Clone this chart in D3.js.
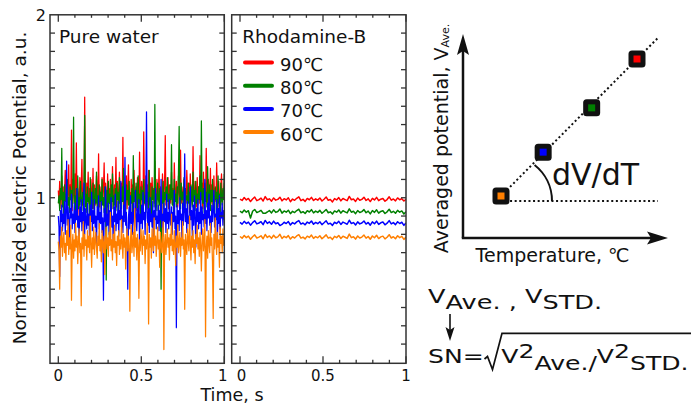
<!DOCTYPE html>
<html>
<head>
<meta charset="utf-8">
<script src="https://cdn.jsdelivr.net/npm/d3@7"></script>
<style>
  body { margin: 0; background: #fff; }
  svg { font-family: "DejaVu Sans", Verdana, sans-serif; }
</style>
</head>
<body>
<div class="container"></div>
<script>
// datos: pure water (left panel), 240 samples over 1 s
const pureRed = [1.04,0.97,1.09,1.01,0.94,1.12,0.99,1.06,0.92,1.03,1.15,0.98,1.08,0.95,1.02,1.18,0.96,1.07,1.00,1.37,
  0.93,1.10,1.03,0.97,1.13,0.99,1.30,0.94,1.05,1.01,0.90,1.11,0.98,1.06,1.21,0.96,1.04,0.99,1.55,1.02,
  0.95,1.08,1.00,1.14,0.97,1.05,0.91,1.10,1.02,0.98,1.16,0.94,1.07,1.01,0.96,1.12,1.03,0.99,1.24,0.95,
  1.06,1.00,0.93,1.11,0.98,1.04,1.19,0.96,1.08,1.02,0.89,1.13,0.99,1.05,0.97,1.10,1.01,0.94,1.17,1.03,
  0.98,1.07,1.00,1.22,0.95,1.09,1.02,0.97,1.14,1.04,0.92,1.08,1.00,1.33,0.96,1.06,1.01,0.99,1.12,0.94,
  1.05,1.18,0.98,1.03,0.91,1.10,1.00,1.07,0.96,1.15,1.02,0.99,1.06,0.93,1.11,1.04,0.97,1.25,1.01,0.95,
  1.09,1.02,0.98,1.36,1.04,0.96,1.12,1.00,1.07,0.94,1.15,1.03,0.99,1.08,0.92,1.11,1.01,1.05,0.97,1.20,
  1.02,0.95,1.10,1.04,0.99,1.16,0.97,1.06,1.01,0.90,1.13,1.03,0.98,1.08,1.34,0.96,1.05,1.00,1.11,0.94,
  1.07,1.02,0.97,1.14,1.00,1.05,0.93,1.19,1.03,0.98,1.09,1.01,0.95,1.12,1.04,0.99,1.26,0.97,1.06,1.02,
  0.94,1.10,1.00,1.05,0.97,1.15,1.03,0.99,1.08,0.92,1.13,1.01,1.06,0.96,1.28,1.02,0.98,1.09,1.04,0.95,
  1.11,1.00,1.06,0.97,1.23,1.03,0.99,1.08,0.94,1.14,1.02,1.05,0.98,1.27,1.01,0.96,1.10,1.04,0.99,1.16,
  0.97,1.07,1.02,0.93,1.12,1.00,1.05,0.98,1.19,1.03,0.95,1.09,1.01,0.80,1.06,1.13,0.98,1.04,1.00,1.08]
const pureGreen = [0.97,1.01,0.93,1.05,0.99,1.27,0.95,1.03,0.90,1.07,0.98,1.02,0.94,1.10,0.96,1.00,0.92,1.06,0.99,1.04,
  0.95,1.08,1.44,0.97,1.01,0.91,1.05,0.98,1.12,0.94,1.00,0.96,1.09,0.99,0.93,1.03,0.97,1.07,1.45,0.95,
  1.02,0.92,1.06,0.98,1.00,0.89,1.11,0.96,1.03,0.94,1.08,0.99,0.93,1.05,0.97,1.14,0.95,1.01,0.90,1.07,
  0.98,1.03,0.94,1.10,0.96,1.00,0.92,1.06,0.99,0.55,1.04,0.95,1.09,0.97,1.02,0.91,1.07,0.98,1.13,0.94,
  1.01,0.96,1.05,0.93,1.08,0.99,1.03,0.90,1.11,0.97,1.00,0.94,1.06,0.98,1.16,0.95,1.02,0.92,1.07,0.99,
  1.04,0.96,1.09,0.93,1.01,0.97,1.05,0.91,1.23,0.98,1.03,0.95,1.08,1.00,0.94,1.12,0.97,1.02,0.89,1.06,
  0.99,1.04,0.95,1.10,0.97,1.01,0.92,1.07,0.98,1.03,0.94,1.15,0.96,1.00,0.91,1.06,0.99,1.04,0.95,1.51,
  0.97,1.02,0.93,1.08,1.00,0.96,1.05,0.92,0.50,1.01,0.97,1.09,0.94,1.03,0.99,1.06,0.95,1.11,0.98,1.02,
  0.93,1.07,0.99,1.29,0.96,1.04,0.91,1.10,0.98,1.02,0.95,1.06,0.97,1.13,1.39,1.00,0.94,1.08,0.99,1.03,
  0.96,1.11,0.92,1.05,0.99,1.01,0.94,1.08,0.97,1.03,0.90,1.07,1.00,0.95,1.14,0.98,1.04,0.93,1.09,0.97,
  1.02,0.96,1.06,0.99,1.12,0.94,1.42,1.01,0.97,1.05,0.92,1.08,0.98,1.03,0.95,1.17,1.00,0.96,1.07,0.93,
  1.04,0.98,1.10,0.95,1.01,0.91,1.06,0.99,1.03,0.94,1.12,0.97,1.02,0.88,1.08,1.00,0.96,1.05,0.99,1.13]
const pureBlue = [0.90,0.84,0.57,0.93,0.87,0.96,0.82,0.91,0.86,0.98,0.80,0.92,1.20,0.85,0.95,0.88,0.78,0.94,0.89,1.02,
  0.83,0.91,0.86,0.97,0.81,0.93,0.88,1.05,0.84,0.90,0.76,0.95,0.87,0.99,0.82,0.92,0.86,1.08,0.80,0.94,
  0.88,0.83,0.97,0.85,0.91,0.79,0.96,0.87,1.03,0.82,0.93,0.86,0.99,0.84,0.90,0.74,0.95,0.88,1.01,0.83,
  0.92,0.86,0.98,0.81,0.89,0.44,0.94,0.87,1.06,0.83,0.91,0.85,0.97,0.80,0.93,0.88,1.00,0.84,0.90,0.77,
  0.95,0.87,1.02,0.82,0.91,0.86,0.98,0.79,0.93,0.88,1.09,0.84,0.90,0.81,0.96,0.87,1.22,0.85,0.92,0.78,
  0.50,0.89,0.95,0.83,1.01,0.86,0.92,0.80,0.97,0.88,0.84,1.04,0.90,0.82,0.94,0.87,0.99,0.75,0.91,0.86,
  0.96,0.83,1.03,0.88,0.92,0.80,0.97,1.47,0.89,0.85,0.94,0.81,1.00,0.87,0.91,0.84,0.98,0.70,0.93,0.88,
  1.05,0.83,0.90,0.86,0.96,0.82,0.93,0.88,1.10,0.84,0.91,0.79,0.97,0.87,0.94,0.81,1.02,0.86,0.92,0.83,
  0.99,0.88,0.85,0.95,0.80,0.92,0.87,1.04,0.83,0.90,0.29,0.96,0.86,0.93,0.82,1.00,0.88,0.91,0.77,0.97,
  0.85,0.92,1.24,0.87,0.94,0.81,0.98,0.86,0.90,0.83,1.06,0.88,0.93,0.79,0.96,0.85,1.01,0.89,0.73,0.94,
  0.87,0.99,0.83,0.92,0.86,1.03,0.80,0.95,0.88,0.91,0.84,1.10,0.86,0.93,0.82,0.97,0.89,1.02,0.85,0.90,
  0.81,0.96,0.87,0.93,1.04,0.84,0.91,0.88,0.99,0.76,0.94,0.86,1.01,0.83,0.92,0.89,0.97,0.85,0.93,0.88]
const pureOrange = [0.76,0.71,0.50,0.79,0.73,0.84,0.68,0.77,0.81,0.70,0.75,0.66,0.82,0.74,0.88,0.69,0.78,0.72,0.85,0.44,
  0.74,0.80,0.67,0.77,0.71,0.86,0.73,0.79,0.64,0.76,0.83,0.70,0.75,0.41,0.78,0.72,0.87,0.68,0.80,0.74,
  0.77,0.66,0.82,0.73,0.79,0.70,0.90,0.75,0.62,0.78,0.72,0.84,0.69,0.76,0.81,0.73,0.67,0.79,0.74,0.86,
  0.71,0.77,0.65,0.82,0.75,0.70,0.79,0.58,0.76,0.84,0.72,0.78,0.68,0.81,0.74,0.92,0.71,0.77,0.66,0.80,
  0.73,0.85,0.70,0.76,0.63,0.79,0.74,0.82,0.69,0.77,0.72,0.88,0.75,0.67,0.80,0.73,0.78,0.61,0.76,0.83,
  0.71,0.79,0.74,0.38,0.77,0.85,0.70,0.75,0.81,0.68,0.94,0.73,0.78,0.66,0.80,0.74,0.45,0.77,0.71,0.83,
  0.76,0.69,0.82,0.74,0.79,0.64,0.77,0.72,0.86,0.75,0.31,0.80,0.73,0.78,0.67,0.83,0.75,0.71,0.89,0.74,
  0.79,0.68,0.76,0.84,0.72,0.77,0.62,0.81,0.74,0.70,0.78,0.87,0.17,0.75,0.80,0.69,0.76,0.83,0.73,0.78,
  0.66,0.80,0.74,0.91,0.71,0.77,0.69,0.82,0.75,0.63,0.79,0.73,0.85,0.70,0.76,0.81,0.68,0.78,0.74,0.87,
  0.72,0.77,0.39,0.80,0.74,0.69,0.83,0.76,0.71,0.90,0.75,0.66,0.79,0.73,0.82,0.70,0.77,0.64,0.80,0.75,
  0.85,0.72,0.78,0.68,0.81,0.74,0.60,0.77,0.83,0.71,0.76,0.88,0.24,0.73,0.79,0.67,0.82,0.75,0.70,0.86,
  0.74,0.78,0.65,0.34,0.80,0.72,0.89,0.76,0.69,0.81,0.73,0.77,0.62,0.84,0.75,0.79,0.70,0.83,0.74,0.78]

// datos: rhodamine-B (right panel), 80 samples over 1 s
const rhoRed = [0.992,0.985,1.001,0.988,0.996,0.979,0.993,1.004,0.984,0.990,0.998,0.982,1.006,0.989,0.994,0.981,0.999,0.987,0.991,1.003,
  0.983,0.995,0.988,1.000,0.978,0.993,0.986,0.997,1.005,0.984,0.991,0.980,0.996,0.989,1.002,0.985,0.994,0.987,0.999,0.982,
  0.992,1.004,0.986,0.990,0.977,0.995,0.988,1.001,0.983,0.996,0.990,0.984,1.007,0.989,0.993,0.980,0.998,0.986,0.991,1.003,
  0.985,0.994,0.979,0.997,0.988,1.002,0.984,0.992,0.996,0.981,0.990,1.005,0.987,0.993,0.983,0.999,0.989,0.995,0.982,0.991]
const rhoGreen = [0.927,0.918,0.933,0.921,0.929,0.889,0.926,0.936,0.919,0.924,0.931,0.915,0.915,0.922,0.930,0.917,0.934,0.920,0.925,0.938,
  0.916,0.928,0.921,0.932,0.913,0.926,0.919,0.930,0.937,0.918,0.924,0.914,0.929,0.922,0.935,0.917,0.927,0.920,0.931,0.915,
  0.925,0.936,0.918,0.923,0.911,0.928,0.921,0.933,0.916,0.929,0.923,0.917,0.939,0.921,0.926,0.913,0.930,0.919,0.924,0.935,
  0.918,0.927,0.912,0.930,0.920,0.934,0.916,0.925,0.929,0.914,0.923,0.937,0.919,0.926,0.915,0.931,0.921,0.928,0.911,0.924]
const rhoBlue = [0.865,0.856,0.871,0.859,0.867,0.850,0.864,0.874,0.857,0.862,0.869,0.853,0.876,0.860,0.868,0.855,0.872,0.858,0.863,0.848,
  0.854,0.866,0.859,0.870,0.851,0.864,0.857,0.868,0.875,0.856,0.862,0.852,0.867,0.860,0.873,0.855,0.865,0.858,0.869,0.853,
  0.863,0.874,0.856,0.861,0.849,0.866,0.859,0.871,0.854,0.867,0.861,0.855,0.877,0.859,0.864,0.851,0.868,0.857,0.862,0.873,
  0.856,0.865,0.850,0.868,0.858,0.872,0.854,0.863,0.867,0.852,0.861,0.875,0.857,0.864,0.853,0.869,0.859,0.866,0.849,0.862]
const rhoOrange = [0.788,0.779,0.794,0.782,0.790,0.773,0.787,0.797,0.780,0.785,0.792,0.776,0.799,0.783,0.791,0.778,0.795,0.781,0.786,0.800,
  0.777,0.789,0.782,0.793,0.774,0.787,0.780,0.791,0.798,0.779,0.785,0.775,0.790,0.783,0.796,0.778,0.788,0.781,0.792,0.776,
  0.786,0.797,0.779,0.784,0.772,0.789,0.782,0.794,0.777,0.790,0.784,0.778,0.801,0.782,0.787,0.774,0.791,0.780,0.785,0.796,
  0.779,0.788,0.773,0.791,0.781,0.795,0.777,0.786,0.790,0.775,0.784,0.798,0.780,0.787,0.776,0.792,0.782,0.789,0.772,0.785]

const legendLabels = ["90℃", "80℃", "70℃", "60℃"]
const colores = ["#ff0000", "#008000", "#0000ff", "#ff7f00"]
const xMajor = [0, 0.5, 1]
const xMinor = [0.1, 0.2, 0.3, 0.4, 0.6, 0.7, 0.8, 0.9]
const xLabels = ["0", "0.5", "1"]
const yTicks = [0.2, 0.3, 0.4, 0.5, 0.6, 0.7, 0.8, 0.9, 1.0, 1.1, 1.2, 1.3, 1.4, 1.5, 1.6, 1.7, 1.8, 1.9]
const yLabeled = [1, 2]

// schematic (right side)
const schemTemp = [60, 69.3, 80, 90]
const schemVolt = [1, 1.96, 2.93, 4]

const svg = d3.select(".container")
  .append("svg")
  .attr("width", 691)
  .attr("height", 408)

const topY = 14.8, bottomY = 363.3
const y = d3.scaleLinear().domain([0.095, 2]).range([bottomY, topY])

const paneles = [
  { x0: 50, x1: 224.3, series: [pureRed, pureGreen, pureBlue, pureOrange], title: "Pure water", sw: 1.25, labShift: [0, 0, -1.5] },
  { x0: 231.7, x1: 406, series: [rhoRed, rhoGreen, rhoBlue, rhoOrange], title: "Rhodamine-B", sw: 1.5, labShift: [1.5, 0, 0] }
]

paneles.forEach((p, k) => {
  const x = d3.scaleLinear().domain([-0.05, 1]).range([p.x0, p.x1])
  const g = svg.append("g").attr("class", "panel" + k)

  g.append("clipPath").attr("id", "clip" + k)
    .append("rect")
    .attr("x", p.x0).attr("y", topY)
    .attr("width", p.x1 - p.x0).attr("height", bottomY - topY)

  const datos = g.append("g").attr("clip-path", `url(#clip${k})`)
  p.series.forEach((s, j) => {
    const line = d3.line()
      .x((_, i) => x(i / (s.length - 1)))
      .y(d => y(d))
    datos.append("path")
      .attr("d", line(s))
      .attr("fill", "none")
      .attr("stroke", colores[j])
      .attr("stroke-width", p.sw)
      .attr("stroke-linejoin", "round")
  })

  // frame
  g.append("rect")
    .attr("x", p.x0).attr("y", topY)
    .attr("width", p.x1 - p.x0).attr("height", bottomY - topY)
    .attr("fill", "none")
    .attr("stroke", "#333")
    .attr("stroke-width", 1.5)

  // x ticks, bottom and top, inward
  g.selectAll(".xmaj")
    .data(xMajor)
    .join("line")
    .attr("x1", d => x(d)).attr("x2", d => x(d))
    .attr("y1", bottomY).attr("y2", bottomY - 7)
    .attr("stroke", "#333").attr("stroke-width", 1.3)
  g.selectAll(".xmajt")
    .data(xMajor)
    .join("line")
    .attr("x1", d => x(d)).attr("x2", d => x(d))
    .attr("y1", topY).attr("y2", topY + 7)
    .attr("stroke", "#333").attr("stroke-width", 1.3)
  g.selectAll(".xmin")
    .data(xMinor)
    .join("line")
    .attr("x1", d => x(d)).attr("x2", d => x(d))
    .attr("y1", bottomY).attr("y2", bottomY - 3.5)
    .attr("stroke", "#333").attr("stroke-width", 1.3)
  g.selectAll(".xmint")
    .data(xMinor)
    .join("line")
    .attr("x1", d => x(d)).attr("x2", d => x(d))
    .attr("y1", topY).attr("y2", topY + 3)
    .attr("stroke", "#333").attr("stroke-width", 1.3)

  // y ticks both sides, inward
  g.selectAll(".yl")
    .data(yTicks)
    .join("line")
    .attr("x1", p.x0).attr("x2", p.x0 + 5)
    .attr("y1", d => y(d)).attr("y2", d => y(d))
    .attr("stroke", "#333").attr("stroke-width", 1.3)
  g.selectAll(".yr")
    .data(yTicks)
    .join("line")
    .attr("x1", p.x1).attr("x2", p.x1 - 5)
    .attr("y1", d => y(d)).attr("y2", d => y(d))
    .attr("stroke", "#333").attr("stroke-width", 1.3)

  g.selectAll(".xlab")
    .data(xMajor)
    .join("text")
    .attr("x", (d, i) => x(d) + p.labShift[i])
    .attr("y", 381)
    .attr("text-anchor", "middle")
    .style("font-size", "15px")
    .attr("fill", "#111")
    .text((_, i) => xLabels[i])

  g.append("text")
    .attr("x", p.x0 + (k == 0 ? 9 : 10.5))
    .attr("y", 43.3)
    .style("font-size", "18.5px")
    .attr("fill", "#111")
    .text(p.title)
})

// y labels 2 and 1
svg.selectAll(".ylab")
  .data(yLabeled)
  .join("text")
  .attr("x", 46)
  .attr("y", d => y(d) + 6)
  .attr("text-anchor", "end")
  .style("font-size", "16px")
  .attr("fill", "#111")
  .text(d => d)

svg.append("text")
  .attr("transform", "translate(26,188) rotate(-90)")
  .attr("text-anchor", "middle")
  .style("font-size", "18.5px")
  .attr("fill", "#111")
  .text("Normalized electric Potential, a.u.")

svg.append("text")
  .attr("x", 232)
  .attr("y", 401)
  .attr("text-anchor", "middle")
  .style("font-size", "17.5px")
  .attr("fill", "#111")
  .text("Time, s")

// legend
const leyenda = svg.append("g").attr("class", "leyenda")
leyenda.selectAll("line")
  .data(legendLabels)
  .join("line")
  .attr("x1", 245).attr("x2", 272)
  .attr("y1", (_, i) => 62.5 + i * 23.2)
  .attr("y2", (_, i) => 62.5 + i * 23.2)
  .attr("stroke", (_, i) => colores[i])
  .attr("stroke-width", 4)
  .attr("stroke-linecap", "round")
leyenda.selectAll("text")
  .data(legendLabels)
  .join("text")
  .attr("x", 280)
  .attr("y", (_, i) => 62.5 + i * 23.2 + 8.5)
  .style("font-size", "18px")
  .attr("fill", "#111")
  .text(d => d)

// schematic
const sx = d3.scaleLinear().domain([60, 90]).range([501, 637])
const sy = d3.scaleLinear().domain([1, 4]).range([196, 59])
const esquema = svg.append("g").attr("class", "esquema")

esquema.append("line")
  .attr("x1", sx(62)).attr("y1", sy(1.2))
  .attr("x2", sx(94.6)).attr("y2", sy(4.46))
  .attr("stroke", "#111").attr("stroke-width", 2)
  .attr("stroke-dasharray", "2,2.6")
esquema.append("line")
  .attr("x1", sx(62)).attr("y1", sy(0.89))
  .attr("x2", sx(94.6)).attr("y2", sy(0.89))
  .attr("stroke", "#111").attr("stroke-width", 2)
  .attr("stroke-dasharray", "2,2.6")

const arco = d3.path()
arco.arc(sx(61.1), sy(0.89), 46, -0.9, 0)
esquema.append("path")
  .attr("d", arco.toString())
  .attr("fill", "none")
  .attr("stroke", "#111")
  .attr("stroke-width", 2)

// axes arrows
esquema.append("line")
  .attr("x1", 463).attr("y1", 238).attr("x2", 463).attr("y2", 45)
  .attr("stroke", "#111").attr("stroke-width", 2.5)
esquema.append("path")
  .attr("d", "M463,34 L457,55 L463,51 L469,55 Z")
  .attr("fill", "#111")
esquema.append("line")
  .attr("x1", 461.8).attr("y1", 238).attr("x2", 655).attr("y2", 238)
  .attr("stroke", "#111").attr("stroke-width", 2.5)
esquema.append("path")
  .attr("d", "M668,238 L647,231.5 L651,238 L647,244.5 Z")
  .attr("fill", "#111")

esquema.selectAll(".marc")
  .data(schemTemp)
  .join("rect")
  .attr("x", d => sx(d) - 8.5)
  .attr("y", (_, i) => sy(schemVolt[i]) - 8.5)
  .attr("width", 17).attr("height", 17)
  .attr("rx", 3.5)
  .attr("fill", "#111")
esquema.selectAll(".inner")
  .data(schemTemp)
  .join("rect")
  .attr("x", d => sx(d) - 3.5)
  .attr("y", (_, i) => sy(schemVolt[i]) - 3.5)
  .attr("width", 7).attr("height", 7)
  .attr("fill", (_, i) => colores[3 - i])

esquema.append("text")
  .attr("x", 552)
  .attr("y", 185)
  .style("font-size", "30px")
  .attr("fill", "#111")
  .text("dV/dT")

const yl = esquema.append("text")
  .attr("transform", "translate(448,138.5) rotate(-90)")
  .attr("text-anchor", "middle")
  .style("font-size", "19px")
  .attr("fill", "#111")
yl.append("tspan").text("Averaged potential, V")
yl.append("tspan").attr("dy", 1).style("font-size", "11px").text("Ave.")

esquema.append("text")
  .attr("x", 552.5)
  .attr("y", 261.7)
  .attr("text-anchor", "middle")
  .style("font-size", "19px")
  .attr("fill", "#111")
  .text("Temperature, ℃")

// formula
const f1 = svg.append("g")
  .attr("transform", "translate(428,303.3) scale(1.28,1)")
  .append("text")
  .style("font-size", "20px")
  .attr("fill", "#111")
f1.append("tspan").text("V")
f1.append("tspan").attr("dy", 5.5).text("Ave. , ")
f1.append("tspan").attr("dy", -5.5).text("V")
f1.append("tspan").attr("dy", 5.5).text("STD.")

svg.append("line")
  .attr("x1", 450).attr("y1", 314).attr("x2", 450).attr("y2", 332)
  .attr("stroke", "#111").attr("stroke-width", 1.6)
svg.append("path")
  .attr("d", "M450,341 L445.5,327 L450,330 L454.5,327 Z")
  .attr("fill", "#111")

const f2 = svg.append("g")
  .attr("transform", "translate(428,363.3) scale(1.255,1)")
  .append("text")
  .style("font-size", "20px")
  .attr("fill", "#111")
f2.append("tspan").text("SN=")
f2.append("tspan").attr("dx", 14).text("V")
f2.append("tspan").attr("dy", -5.5).text("2")
f2.append("tspan").attr("dy", 12.5).text("Ave./")
f2.append("tspan").attr("dy", -7).text("V")
f2.append("tspan").attr("dy", -5.5).text("2")
f2.append("tspan").attr("dy", 12.5).text("STD.")

svg.append("path")
  .attr("d", "M484.5,359 L487.5,356.5 L492.5,369.5 L502,333.3 L691,333.3")
  .attr("fill", "none")
  .attr("stroke", "#111")
  .attr("stroke-width", 1.7)
  .attr("stroke-linejoin", "miter")
</script>
</body>
</html>
